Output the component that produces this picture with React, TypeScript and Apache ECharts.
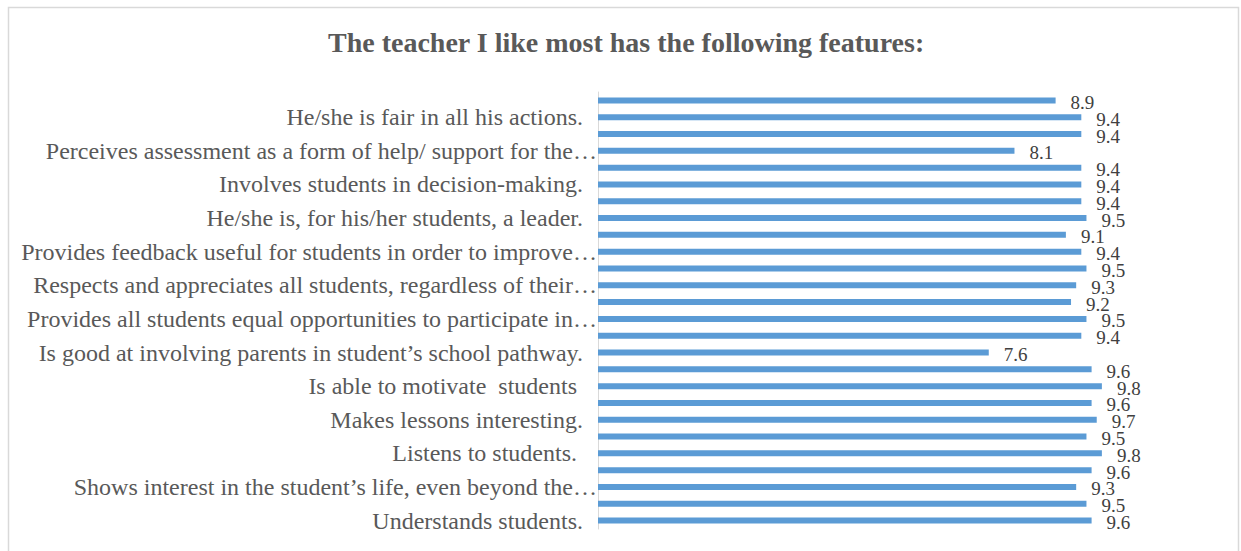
import React, { useEffect, useRef } from "react";
import * as echarts from "echarts";

const chartTitle = "The teacher I like most has the following features:";

// bottom to top (index 0 is the bottom bar); "" = category whose label Excel skipped
const categories: string[] = [
  "Understands students.",
  "",
  "Shows interest in the student\u2019s life, even beyond the\u2026",
  "",
  "Listens to students.",
  "",
  "Makes lessons interesting.",
  "",
  "Is able to motivate  students",
  "",
  "Is good at involving parents in student\u2019s school pathway.",
  "",
  "Provides all students equal opportunities to participate in\u2026",
  "",
  "Respects and appreciates all students, regardless of their\u2026",
  "",
  "Provides feedback useful for students in order to improve\u2026",
  "",
  "He/she is, for his/her students, a leader.",
  "",
  "Involves students in decision-making.",
  "",
  "Perceives assessment as a form of help/ support for the\u2026",
  "",
  "He/she is fair in all his actions.",
  "",
];

// labels that carry an extra trailing space in the reference
const wideTrail: string[] = ["Listens to students.", "Is able to motivate  students"];

const values: number[] = [
  9.6, 9.5, 9.3, 9.6, 9.8, 9.5, 9.7, 9.6, 9.8, 9.6, 7.6, 9.4, 9.5, 9.2, 9.3,
  9.5, 9.4, 9.1, 9.5, 9.4, 9.4, 9.4, 8.1, 9.4, 9.4, 8.9,
];

const SERIF = "'Liberation Serif', 'Times New Roman', serif";

const labelFont = { fontFamily: SERIF, fontSize: 24, color: "#595959" };

export default function App() {
  const ref = useRef<HTMLDivElement>(null);
  useEffect(() => {
    if (!ref.current) return;
    const chart = echarts.init(ref.current, undefined, { renderer: "svg" });
    chart.setOption({
      animation: false,
      backgroundColor: "#ffffff",
      title: {
        text: chartTitle,
        left: 328,
        top: 28,
        padding: 0,
        textStyle: {
          fontFamily: SERIF,
          fontWeight: "bold",
          fontSize: 28,
          color: "#595959",
        },
      },
      graphic: [
        {
          type: "rect",
          shape: { x: 8.5, y: 7.5, width: 1230, height: 570 },
          style: { fill: "none", stroke: "#d9d9d9", lineWidth: 1.5 },
          silent: true,
        },
      ],
      grid: { left: 598, top: 92, width: 617, height: 437, containLabel: false },
      xAxis: {
        type: "value",
        min: 0,
        max: 12,
        show: false,
      },
      yAxis: {
        type: "category",
        data: categories,
        axisLine: { show: true, lineStyle: { color: "#d9d9d9", width: 1 } },
        axisTick: { show: false },
        axisLabel: {
          interval: 1,
          margin: 1,
          ...labelFont,
          formatter: (v: string) => {
            if (!v) return "";
            if (v.endsWith("\u2026")) return `{e|${v}}`;
            if (wideTrail.includes(v)) return `{w|${v}}`;
            return `{n|${v}}`;
          },
          rich: {
            e: { ...labelFont, padding: [0, 0, 0, 0] },
            n: { ...labelFont, padding: [0, 14, 0, 0] },
            w: { ...labelFont, padding: [0, 20, 0, 0] },
          },
        },
        splitLine: { show: false },
      },
      series: [
        {
          type: "bar",
          data: values,
          barWidth: 6,
          itemStyle: { color: "#5b9bd5" },
          label: {
            show: true,
            position: "right",
            distance: 15,
            offset: [0, 2],
            fontFamily: SERIF,
            fontSize: 19,
            color: "#404040",
            formatter: (p: any) => p.value.toFixed(1),
          },
        },
      ],
    });
    return () => chart.dispose();
  }, []);
  return (
    <div
      ref={ref}
      style={{ position: "fixed", left: 0, top: 0, width: 1241, height: 551 }}
    />
  );
}
